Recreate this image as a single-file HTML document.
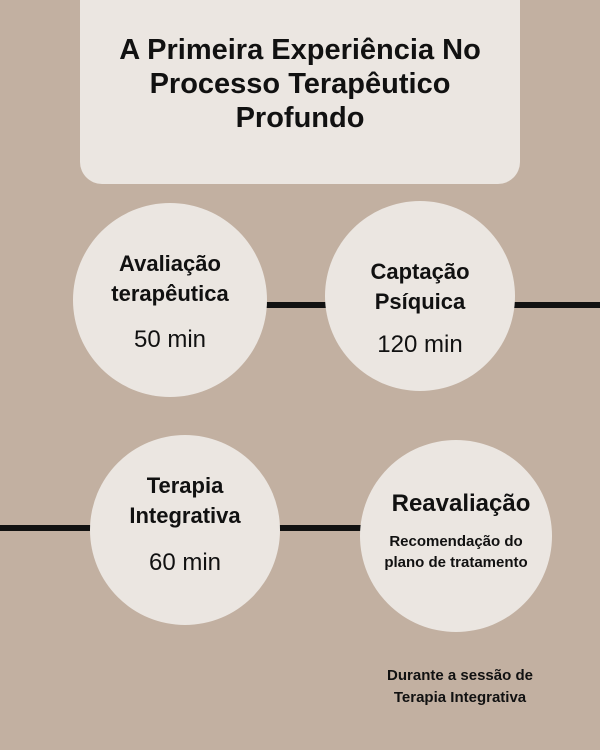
<!DOCTYPE html>
<html><head><meta charset="utf-8"><style>
*{margin:0;padding:0;box-sizing:border-box}
body{width:600px;height:750px;background:#c2b0a1;position:relative;overflow:hidden;font-family:"Liberation Sans",sans-serif;color:#111}
.box{position:absolute;left:80px;top:0;width:440px;height:184px;background:#ebe6e1;border-radius:0 0 22px 22px}
.title{position:absolute;left:60px;top:33px;width:480px;text-align:center;font-size:29px;font-weight:bold;line-height:34px}
.c{position:absolute;border-radius:50%;background:#ebe6e1}
.line{position:absolute;height:6px;background:#111}
.t{position:absolute;text-align:center;width:260px}
.b{font-weight:bold;font-size:22px;line-height:30px}
.r{font-size:24px}
</style></head><body>
<div class="box"></div>
<div class="title">A Primeira Experiência No<br>Processo Terapêutico<br>Profundo</div>
<div class="line" style="left:260px;top:302px;width:70px"></div>
<div class="line" style="left:510px;top:302px;width:90px"></div>
<div class="line" style="left:0;top:525px;width:95px"></div>
<div class="line" style="left:275px;top:525px;width:90px"></div>
<div class="c" style="left:73px;top:203px;width:194px;height:194px"></div>
<div class="c" style="left:325px;top:201px;width:190px;height:190px"></div>
<div class="c" style="left:90px;top:435px;width:190px;height:190px"></div>
<div class="c" style="left:360px;top:440px;width:192px;height:192px"></div>
<div class="t b" style="left:40px;top:249px">Avaliação<br>terapêutica</div>
<div class="t r" style="left:40px;top:326px">50 min</div>
<div class="t b" style="left:290px;top:257px">Captação<br>Psíquica</div>
<div class="t r" style="left:290px;top:331px">120 min</div>
<div class="t b" style="left:55px;top:471px">Terapia<br>Integrativa</div>
<div class="t r" style="left:55px;top:549px">60 min</div>
<div class="t" style="left:331px;top:490px;font-weight:bold;font-size:24px">Reavaliação</div>
<div class="t" style="left:326px;top:531px;font-weight:bold;font-size:15px;line-height:21px">Recomendação do<br>plano de tratamento</div>
<div class="t" style="left:330px;top:665px;font-weight:bold;font-size:15px;line-height:22px">Durante a sessão de<br>Terapia Integrativa</div>
</body></html>
